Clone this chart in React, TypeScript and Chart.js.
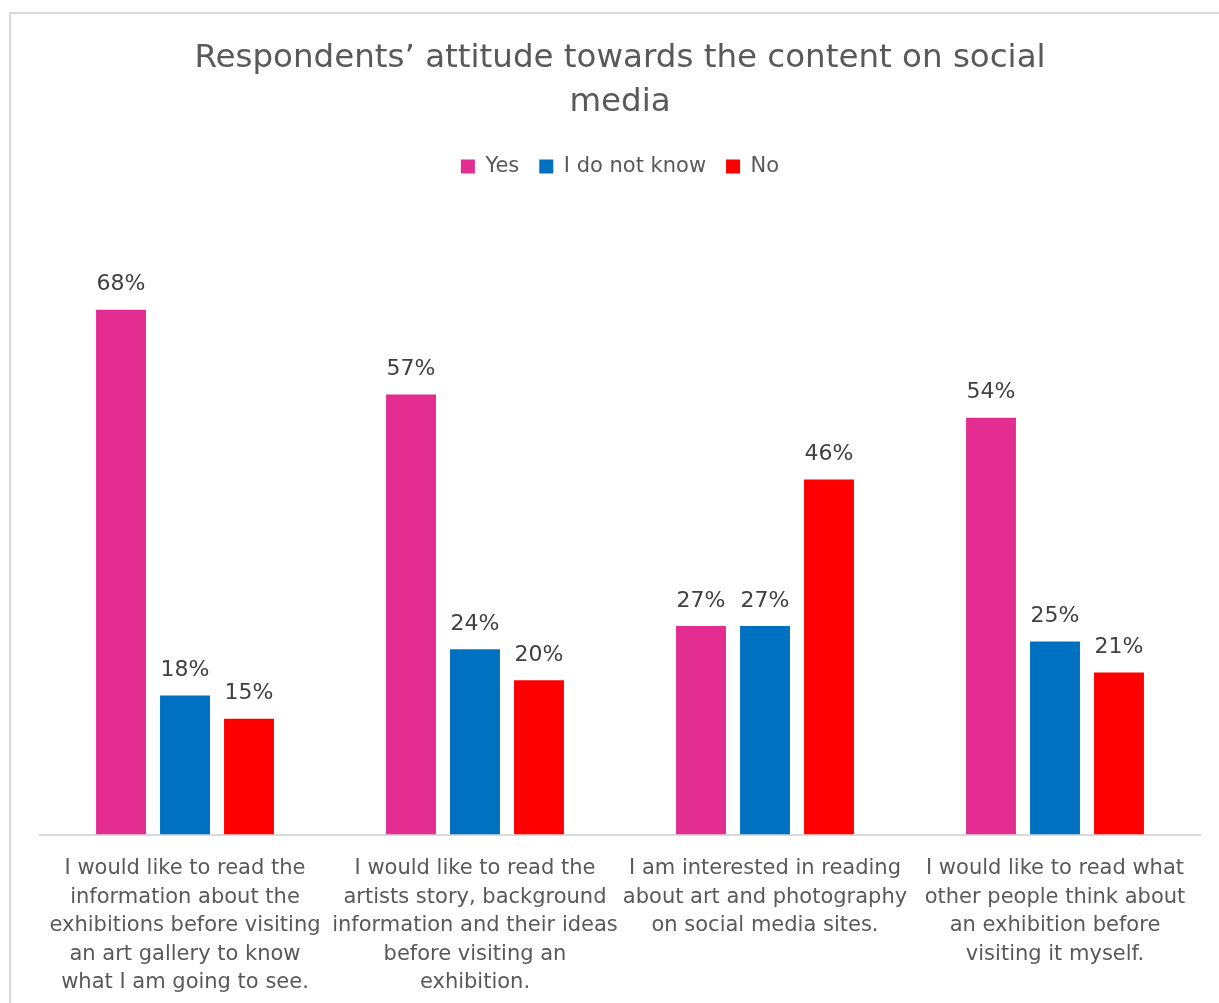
import { useEffect, useRef } from 'react';
import { Chart, registerables } from 'chart.js';

Chart.register(...registerables);

const categories: string[][] = [
  ['I would like to read the', 'information about the', 'exhibitions before visiting', 'an art gallery to know', 'what I am going to see.'],
  ['I would like to read the', 'artists story, background', 'information and their ideas', 'before visiting an', 'exhibition.'],
  ['I am interested in reading', 'about art and photography', 'on social media sites.'],
  ['I would like to read what', 'other people think about', 'an exhibition before', 'visiting it myself.'],
];

const seriesNames = ['Yes', 'I do not know', 'No'];
const yesValues = [68, 57, 27, 54];
const dontKnowValues = [18, 24, 27, 25];
const noValues = [15, 20, 46, 21];
const seriesColors = ['#E32D91', '#0070C0', '#FF0000'];

const titleLines = ['Respondents\u2019 attitude towards the content on social', 'media'];

const FONT = '"DejaVu Sans", Verdana, sans-serif';

const dataLabels = {
  id: 'dataLabels',
  afterDatasetsDraw(chart: any) {
    const ctx = chart.ctx;
    ctx.save();
    ctx.font = `22px ${FONT}`;
    ctx.fillStyle = '#404040';
    ctx.textAlign = 'center';
    ctx.textBaseline = 'middle';
    chart.data.datasets.forEach((ds: any, i: number) => {
      chart.getDatasetMeta(i).data.forEach((bar: any, j: number) => {
        ctx.fillText(`${ds.data[j]}%`, bar.x, bar.y - 25);
      });
    });
    ctx.restore();
  },
};

const legendSpacer = {
  id: 'legendSpacer',
  beforeInit(chart: any) {
    const lg = chart.legend;
    if (!lg) return;
    const orig = lg.fit.bind(lg);
    lg.fit = () => {
      orig();
      lg.height += 30;
    };
  },
};

const CANVAS_H = 1025;

export default function App() {
  const ref = useRef<HTMLCanvasElement>(null);

  useEffect(() => {
    const chart = new Chart(ref.current!, {
      type: 'bar',
      data: {
        labels: categories,
        datasets: [
          { label: seriesNames[0], data: yesValues, backgroundColor: seriesColors[0], borderWidth: 0 },
          { label: seriesNames[1], data: dontKnowValues, backgroundColor: seriesColors[1], borderWidth: 0 },
          { label: seriesNames[2], data: noValues, backgroundColor: seriesColors[2], borderWidth: 0 },
        ],
      },
      options: {
        responsive: false,
        animation: false,
        devicePixelRatio: 1,
        layout: { padding: { left: 40, right: 19, top: 0, bottom: 8 } },
        datasets: { bar: { categoryPercentage: 0.662, barPercentage: 0.78 } },
        scales: {
          x: {
            grid: { display: false, drawTicks: false },
            border: { display: true, color: '#d9d9d9', width: 2 },
            ticks: {
              color: '#595959',
              font: { family: FONT, size: 21, lineHeight: '28.5px' },
              padding: 20,
              maxRotation: 0,
              minRotation: 0,
              autoSkip: false,
            },
          },
          y: {
            display: false,
            min: 0,
            max: 80,
          },
        },
        plugins: {
          title: {
            display: true,
            text: titleLines,
            color: '#595959',
            font: { family: FONT, size: 32.5, weight: 'normal', lineHeight: '44px' },
            padding: { top: 37, bottom: 11 },
          },
          legend: {
            display: true,
            position: 'top',
            labels: {
              color: '#595959',
              font: { family: FONT, size: 21 },
              boxWidth: 14,
              boxHeight: 14,
              padding: 20,
            },
          },
          tooltip: { enabled: false },
        },
      },
      plugins: [dataLabels, legendSpacer],
    } as any);
    return () => chart.destroy();
  }, []);

  return (
    <div style={{ position: 'fixed', left: 0, top: 0, width: 1219, height: 1003, background: '#fff', overflow: 'hidden' }}>
      <canvas ref={ref} width={1219} height={CANVAS_H} style={{ position: 'absolute', left: 0, top: 0, width: 1219, height: CANVAS_H }} />
      <div
        style={{
          position: 'absolute',
          left: 9,
          top: 12,
          width: 1300,
          height: 1100,
          border: '2px solid #d9d9d9',
          boxSizing: 'border-box',
          pointerEvents: 'none',
        }}
      />
    </div>
  );
}
